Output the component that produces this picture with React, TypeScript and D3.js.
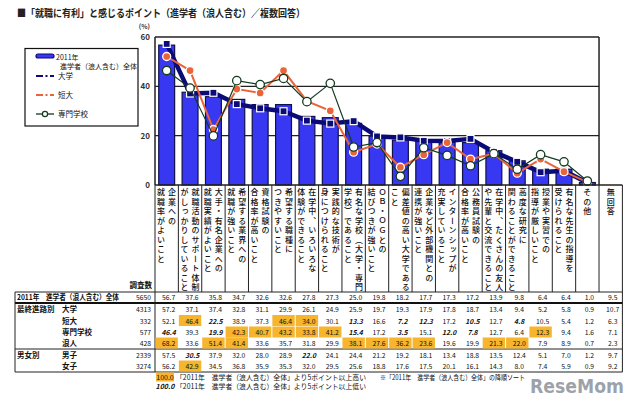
import React, { useEffect } from 'react';
import * as d3 from 'd3';

// 列ラベル（縦書き、右の列から）
const categoryLabels: string[][] = [
  ['企業への', '就職率がよいこと'],
  ['就職活動のサポート体制', 'がしっかりしていること'],
  ['大手・有名企業への', '就職実績がよいこと'],
  ['希望する業界への', '就職が強いこと'],
  ['資格試験の', '合格率が高いこと'],
  ['希望する職種に', 'つきやすいこと'],
  ['在学中、いろいろな', '体験ができること'],
  ['実践的な技術が', '身につけられること'],
  ['有名な学校（大学・専門', '学校）であること'],
  ['ＯＢ・ＯＧとの', '結びつきが強いこと'],
  ['偏差値の高い大学である', 'こと'],
  ['企業など外部機関との', '連携が強いこと'],
  ['インターンシップが', '充実していること'],
  ['公務員試験の', '合格率が高いこと'],
  ['在学中、たくさんの友人', 'や先輩と交流できること'],
  ['高度な研究に', '関わることができること'],
  ['授業や実習での', '指導が厳しいこと'],
  ['有名な先生の指導を', '受けられること'],
  ['その他'],
  ['無回答'],
];

const rowNames = ['2011年　進学者（浪人含む）全体', '大学', '短大', '専門学校', '浪人', '男子', '女子'];
const groupNames = ['最終進路別', '男女別'];
const sampleSizes = [5650, 4313, 332, 577, 428, 2339, 3274];

const totalRow = [56.7, 37.6, 35.8, 34.7, 32.6, 32.6, 27.8, 27.3, 25.0, 19.8, 18.2, 17.7, 17.3, 17.2, 13.9, 9.8, 6.4, 6.4, 1.0, 9.5];
const univRow = [57.2, 37.1, 37.4, 32.8, 31.1, 29.9, 26.1, 24.9, 25.9, 19.7, 19.3, 17.9, 17.8, 18.7, 13.4, 9.4, 5.2, 5.8, 0.9, 10.7];
const juniorRow = [52.1, 46.4, 22.5, 38.9, 37.3, 46.4, 34.0, 30.1, 13.3, 16.6, 7.2, 12.3, 17.2, 10.5, 12.7, 4.8, 10.5, 5.4, 1.2, 6.3];
const vocationalRow = [46.4, 39.3, 19.9, 42.3, 40.7, 43.2, 33.8, 41.2, 15.4, 17.2, 3.5, 15.1, 12.0, 7.8, 12.7, 6.4, 12.3, 9.4, 1.6, 7.1];
const roninRow = [68.2, 33.6, 51.4, 41.4, 33.6, 35.7, 31.8, 29.9, 38.1, 27.6, 36.2, 23.6, 19.6, 19.9, 21.3, 22.0, 7.9, 8.9, 0.7, 2.3];
const maleRow = [57.5, 30.5, 37.9, 32.0, 28.0, 28.9, 22.0, 24.1, 24.4, 21.2, 19.2, 18.1, 13.4, 18.8, 13.5, 12.4, 5.1, 7.0, 1.2, 9.7];
const femaleRow = [56.2, 42.9, 34.5, 36.8, 35.9, 35.3, 32.0, 29.5, 25.6, 18.8, 17.6, 17.5, 20.1, 16.1, 14.3, 8.0, 7.4, 5.9, 0.9, 9.2];

const yTicks = [0, 20, 40, 60];

const FONT = '"Noto Sans CJK JP", "Noto Sans", sans-serif';
const BAR_FILL = '#3838f2';
const NAVY = '#0a0a78';
const ORANGE = '#e8643a';
const GREEN = '#123a1e';
const GOLD = '#f6b52c';

const App: React.FC = () => {
  useEffect(() => {
    document.body.style.margin = '0';
  }, []);

  const nBars = 19;
  const x = d3.scaleBand<number>().domain(d3.range(20)).range([155, 622.4]);
  const bw = x.bandwidth();
  const cx = (i: number) => (x(i) as number) + bw / 2;
  const y = d3.scaleLinear().domain([0, 60]).range([185, 37]);
  const plotRight = (x(nBars - 1) as number) + bw;
  const barW = bw * 0.68;

  const barIdx = d3.range(nBars);
  const line = d3.line<number>().x((_, i) => cx(i)).y(d => y(d));

  const tableRows = [totalRow, univRow, juniorRow, vocationalRow, roninRow, maleRow, femaleRow];
  const rowBase = [300, 312, 323.5, 335, 346, 358, 369];
  const tableLeft = 15;
  const tableRight = 622.4;

  const mark = (v: number, i: number, r: number) => {
    if (r === 0 || i === 19) return 0;
    const d = Math.round((v - totalRow[i]) * 10);
    if (d >= 50) return 1;
    if (d <= -50) return -1;
    return 0;
  };

  return (
    <svg width={640} height={401} style={{ position: 'absolute', left: 0, top: 0, background: '#fff' }} fontFamily={FONT}>
      {/* title */}
      <text x={17} y={17} fontSize={10.5} fontWeight={700} fill="#222" textLength={288} lengthAdjust="spacingAndGlyphs">
        ■「就職に有利」と感じるポイント（進学者（浪人含む）／複数回答）
      </text>

      {/* y axis */}
      <text x={150} y={28.5} fontSize={6.5} fontWeight={700} textAnchor="end" fill="#333">(%)</text>
      {yTicks.map(t => (
        <text key={t} x={150} y={y(t) + 3} fontSize={8} fontWeight={700} textAnchor="end" fill="#333">{t}</text>
      ))}
      {yTicks.filter(t => t > 0).map(t => (
        <line key={t} x1={155} x2={plotRight} y1={y(t)} y2={y(t)} stroke="#222" strokeWidth={t === 60 ? 1.5 : 1.3} />
      ))}
      <line x1={155} x2={155} y1={y(60)} y2={y(0)} stroke="#222" strokeWidth={1.5} />
      <line x1={plotRight} x2={plotRight} y1={y(60)} y2={y(0)} stroke="#222" strokeWidth={1.5} />

      {/* bars */}
      {barIdx.map(i => (
        <rect key={i} x={(x(i) as number) + (bw - barW) / 2} y={y(totalRow[i])} width={barW}
          height={y(0) - y(totalRow[i])} fill={BAR_FILL} stroke="#10104a" strokeWidth={1.2} />
      ))}

      {/* 大学 */}
      <path d={line(univRow.slice(0, nBars)) ?? ''} fill="none" stroke={NAVY} strokeWidth={4.5} strokeLinejoin="round" />
      {barIdx.map(i => (
        <rect key={i} x={cx(i) - 3.5} y={y(univRow[i]) - 3.5} width={7} height={7} fill={NAVY} stroke="#fff" strokeWidth={1.2} />
      ))}
      {/* 短大 */}
      <path d={line(juniorRow.slice(0, nBars)) ?? ''} fill="none" stroke={ORANGE} strokeWidth={2} />
      {barIdx.map(i => (
        <circle key={i} cx={cx(i)} cy={y(juniorRow[i])} r={4} fill={ORANGE} stroke="#fff" strokeWidth={1.3} />
      ))}
      {/* 専門学校 */}
      <path d={line(vocationalRow.slice(0, nBars)) ?? ''} fill="none" stroke={GREEN} strokeWidth={1.2} />
      {barIdx.map(i => (
        <circle key={i} cx={cx(i)} cy={y(vocationalRow[i])} r={4.2} fill="#fff" stroke={GREEN} strokeWidth={1.3} />
      ))}

      {/* legend */}
      <rect x={25} y={48.5} width={113} height={77.5} fill="#fff" stroke="#111" strokeWidth={1.2} />
      <rect x={36} y={54} width={18} height={4} rx={2} fill={BAR_FILL} stroke={NAVY} strokeWidth={1.2} />
      <text x={56} y={60} fontSize={7} fill="#111">2011年</text>
      <text x={60} y={69} fontSize={7} fill="#111">進学者（浪人含む）全体</text>
      <line x1={36} x2={54} y1={76} y2={76} stroke={NAVY} strokeWidth={2} strokeDasharray="7,2.5,2,2.5" />
      <text x={58} y={79} fontSize={7.5} fill="#111">大学</text>
      <line x1={36} x2={54} y1={95} y2={95} stroke={ORANGE} strokeWidth={2} strokeDasharray="7,2.5,2,2.5" />
      <text x={58} y={98} fontSize={7.5} fill="#111">短大</text>
      <line x1={36} x2={54} y1={114} y2={114} stroke={GREEN} strokeWidth={1.3} />
      <circle cx={45} cy={114} r={2.6} fill="#fff" stroke={GREEN} strokeWidth={1.2} />
      <text x={58} y={117} fontSize={7.5} fill="#111">専門学校</text>

      {/* category label cells */}
      <line x1={155} x2={tableRight} y1={185} y2={185} stroke="#222" strokeWidth={1.3} />
      {d3.range(21).map(i => {
        const xx = i < 20 ? (x(i) as number) : tableRight;
        return <line key={i} x1={xx} x2={xx} y1={185} y2={292} stroke="#222" strokeWidth={1} />;
      })}
      {categoryLabels.map((cols, i) =>
        cols.map((s, k) => {
          const off = cols.length === 1 ? 0 : k === 0 ? 5.4 : -5.6;
          return (
            <text key={i + '-' + k} x={cx(i) + off} y={188} fontSize={8} fill="#111" fontWeight={500}
              style={{ writingMode: 'vertical-rl', letterSpacing: '1.5px' }}>
              {s}
            </text>
          );
        })
      )}
      <text x={152} y={288} fontSize={7.5} fontWeight={700} textAnchor="end" fill="#111">調査数</text>

      {/* table */}
      <line x1={tableLeft} x2={tableRight} y1={292} y2={292} stroke="#222" strokeWidth={1} />
      <line x1={tableLeft} x2={tableRight} y1={303} y2={303} stroke="#111" strokeWidth={2.2} />
      <line x1={tableLeft} x2={tableRight} y1={349} y2={349} stroke="#222" strokeWidth={1} />
      <line x1={tableLeft} x2={tableRight} y1={372} y2={372} stroke="#222" strokeWidth={1} />
      <line x1={tableLeft} x2={tableLeft} y1={292} y2={372} stroke="#222" strokeWidth={1} />
      <line x1={155} x2={155} y1={292} y2={372} stroke="#222" strokeWidth={1} />
      <line x1={tableRight} x2={tableRight} y1={292} y2={372} stroke="#222" strokeWidth={1} />

      {tableRows.map((row, r) => (
        <g key={r}>
          {row.map((v, i) =>
            mark(v, i, r) === 1 ? (
              <rect key={i} x={(x(i) as number) + 0.5} y={rowBase[r] - 8.5} width={bw - 1} height={11} fill={GOLD} />
            ) : null
          )}
          {row.map((v, i) => {
            const m = mark(v, i, r);
            return (
              <text key={i} x={cx(i) + 2} y={rowBase[r]} fontSize={6.8} textAnchor="middle" fill="#111"
                fontWeight={m === -1 ? 700 : 400} fontStyle={m === -1 ? 'italic' : 'normal'}>
                {v.toFixed(1)}
              </text>
            );
          })}
          <text x={151} y={rowBase[r]} fontSize={6.8} textAnchor="end" fill="#111">{sampleSizes[r]}</text>
          <text x={r === 0 ? 17 : 62} y={rowBase[r]} fontSize={7.5} fontWeight={700} fill="#111"
            textLength={r === 0 ? 102 : undefined} lengthAdjust="spacingAndGlyphs">
            {rowNames[r]}
          </text>
        </g>
      ))}
      <text x={17} y={rowBase[1]} fontSize={7.5} fontWeight={700} fill="#111">{groupNames[0]}</text>
      <text x={17} y={rowBase[5]} fontSize={7.5} fontWeight={700} fill="#111">{groupNames[1]}</text>

      {/* footnotes */}
      <rect x={156} y={372.5} width={18} height={9} fill={GOLD} />
      <text x={165} y={380} fontSize={7} textAnchor="middle" fill="#111">100.0</text>
      <text x={176} y={380} fontSize={7} fill="#111" textLength={190} lengthAdjust="spacingAndGlyphs">
        「2011年　進学者（浪人含む）全体」より5ポイント以上高い
      </text>
      <text x={165} y={389} fontSize={7} textAnchor="middle" fontWeight={700} fontStyle="italic" fill="#111">100.0</text>
      <text x={176} y={389} fontSize={7} fill="#111" textLength={190} lengthAdjust="spacingAndGlyphs">
        「2011年　進学者（浪人含む）全体」より5ポイント以上低い
      </text>
      <text x={380} y={380} fontSize={7} fill="#111" textLength={145} lengthAdjust="spacingAndGlyphs">
        ※「2011年　進学者（浪人含む）全体」の降順ソート
      </text>

      {/* watermark */}
      <text x={530} y={393} fontSize={19} fontWeight={700} fill="#8b9099" fillOpacity={0.85}
        fontFamily="'DejaVu Sans', sans-serif" textLength={94} lengthAdjust="spacingAndGlyphs">
        ReseMom
      </text>
    </svg>
  );
};

export default App;
